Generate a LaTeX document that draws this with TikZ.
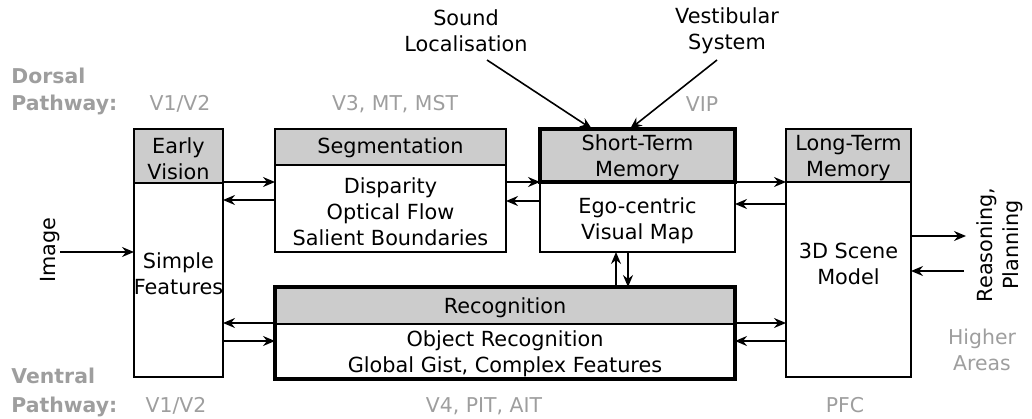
\documentclass[tikz,border=0pt]{standalone}
\usepackage{fontspec}
\setmainfont{DejaVu Sans}
\usetikzlibrary{arrows.meta,calc}
\definecolor{hdrgray}{RGB}{204,204,204}
\definecolor{areagray}{RGB}{158,158,158}
\newcommand\boxfont{\fontsize{10.4}{13}\selectfont}
\newcommand\areafont{\fontsize{10.2}{13}\selectfont}

\begin{document}
\begin{tikzpicture}[x=0.5pt,y=-0.5pt,
  box/.style={draw, line width=1pt, inner sep=0pt, outer sep=0pt, anchor=north west},
  hdr/.style={box, fill=hdrgray},
  lbl/.style={inner sep=0pt, align=center, font=\boxfont},
  area/.style={inner sep=0pt, text=areagray, font=\areafont},
  areabold/.style={inner sep=0pt, text=areagray, font=\areafont\bfseries},
  arr/.style={-{Stealth[length=6pt,width=5pt,inset=2pt]}, line width=0.8pt},
  thickframe/.style={line width=2.2pt}]
\useasboundingbox (0,0) rectangle (1032,418);

% ---- processing stages: header and body boxes ----
\node[hdr, minimum width=44.5pt, minimum height=27pt] (evh) at (134,129) {};
\node[box, minimum width=44.5pt, minimum height=97pt] (evb) at (134,183) {};

\node[hdr, minimum width=115.5pt, minimum height=18pt] (segh) at (275,129) {};
\node[box, minimum width=115.5pt, minimum height=43.5pt] (segb) at (275,165) {};

\node[box, minimum width=97.5pt, minimum height=35pt] (stmb) at (540,182) {};
\node[hdr, thickframe, minimum width=97.5pt, minimum height=26.5pt] (stmh) at (540,129) {};

\node[hdr, minimum width=62.5pt, minimum height=26.5pt] (ltmh) at (786,129) {};
\node[box, minimum width=62.5pt, minimum height=97.5pt] (ltmb) at (786,182) {};

\node[hdr, minimum width=230pt, minimum height=18.5pt] (rech) at (275,287) {};
\node[box, minimum width=230pt, minimum height=27.5pt] (recb) at (275,324) {};
\draw[thickframe] (rech.north west) rectangle (recb.south east);

% ---- stage texts ----
\node[lbl] (evht) at (178.5,158.5) {Early\\Vision};
\node[lbl] (evt) at (178.5,274) {Simple\\Features};
\node[lbl] (seght) at (390.5,148) {Segmentation};
\node[lbl] (segt) at (390.5,211.5) {Disparity\\Optical Flow\\Salient Boundaries};
\node[lbl] (stmht) at (637.5,157.5) {Short-Term\\Memory};
\node[lbl] (stmt) at (637.5,221) {Ego-centric\\Visual Map};
\node[lbl] (ltmht) at (848.5,158) {Long-Term\\Memory};
\node[lbl] (ltmt) at (848.5,264) {3D Scene\\Model};
\node[lbl] (recht) at (505,307.5) {Recognition};
\node[lbl] (rect) at (505,354) {Object Recognition\\Global Gist, Complex Features};

% ---- inputs and outputs ----
\node[lbl, rotate=90] (img) at (50,250) {Image};
\node[lbl, rotate=90] (reas) at (1000,245) {Reasoning,\\Planning};
\node[lbl] (snd) at (466,31) {Sound\\Localisation};
\node[lbl] (ves) at (727,31) {Vestibular\\System};
\coordinate (sndout) at (487,60);
\coordinate (vesout) at (717,60);
\coordinate (reasin) at (966,236);
\coordinate (reasout) at (964,271);

% ---- cortical areas ----
\node[areabold, anchor=base west] (dors) at (11,83) {Dorsal};
\node[areabold, anchor=base west] (dpath) at (11,110) {Pathway:};
\node[area, anchor=base] (dv1) at (180,110) {V1/V2};
\node[area, anchor=base] (dv3) at (395,110) {V3, MT, MST};
\node[area, anchor=base] (dvip) at (702,111) {VIP};
\node[areabold, anchor=base west] (vent) at (11,383) {Ventral};
\node[areabold, anchor=base west] (vpath) at (11,412) {Pathway:};
\node[area, anchor=base] (vv1) at (176,412) {V1/V2};
\node[area, anchor=base] (vv4) at (484,412) {V4, PIT, AIT};
\node[area, anchor=base] (pfc) at (845,412) {PFC};
\node[area, align=center] (high) at (982,350) {Higher\\Areas};

% ---- connections ----
\draw[arr] (img.south |- 0,252) -- (evb.west |- 0,252);
\draw[arr] (evb.east |- 0,182) -- (segb.west |- 0,182);
\draw[arr] (segb.west |- 0,200) -- (evb.east |- 0,200);
\draw[arr] (segb.east |- 0,182) -- (stmb.west |- 0,182);
\draw[arr] (stmb.west |- 0,201) -- (segb.east |- 0,201);
\draw[arr] (stmb.east |- 0,182) -- (ltmb.west |- 0,182);
\draw[arr] (ltmb.west |- 0,204) -- (stmb.east |- 0,204);
\draw[arr] (rech.north -| 616,0) -- (stmb.south -| 616,0);
\draw[arr] (stmb.south -| 628,0) -- (rech.north -| 628,0);
\draw[arr] (rech.west |- 0,323) -- (evb.east |- 0,323);
\draw[arr] (evb.east |- 0,341) -- (recb.west |- 0,341);
\draw[arr] (rech.east |- 0,323) -- (ltmb.west |- 0,323);
\draw[arr] (ltmb.west |- 0,341) -- (recb.east |- 0,341);
\draw[arr] (ltmb.east |- 0,236) -- (reasin);
\draw[arr] (reasout) -- (ltmb.east |- 0,271);
\draw[arr] (sndout) -- (stmh.north -| 592,0);
\draw[arr] (vesout) -- (stmh.north -| 630,0);
\end{tikzpicture}
\end{document}
